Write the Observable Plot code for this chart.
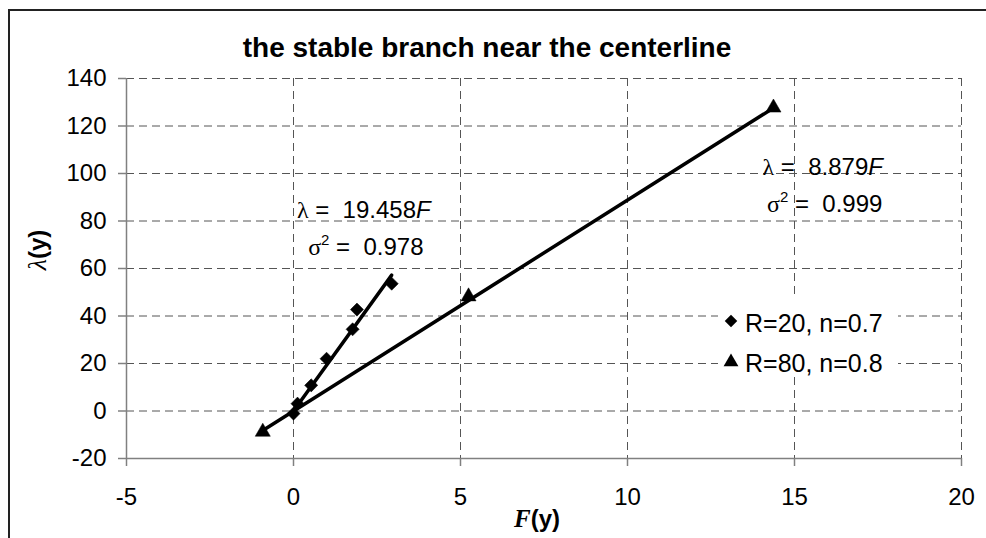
<!DOCTYPE html>
<html><head><meta charset="utf-8">
<script src="https://cdn.jsdelivr.net/npm/d3@7"></script>
<script src="https://cdn.jsdelivr.net/npm/@observablehq/plot@0.6"></script>
<style>
body{margin:0;background:#fff;}
#wrap{position:relative;width:986px;height:538px;overflow:hidden;background:#fff;}
#wrap svg{position:absolute;left:0;top:0;}
#border{position:absolute;left:8px;top:9px;width:1000px;height:600px;border-left:2px solid #222;border-top:2px solid #222;z-index:2;}
</style></head><body>
<div id="wrap"><div id="border"></div></div>
<script>
// ---- data ----
const titleText = "the stable branch near the centerline";
const seriesNames = ["R=20, n=0.7", "R=80, n=0.8"];
const F_R20 = [0, 0.12, 0.53, 0.99, 1.77, 1.90, 2.94];
const L_R20 = [-1.1, 3.1, 10.8, 22.0, 34.4, 42.7, 53.6];
const F_R80 = [-0.92, 5.24, 14.37];
const L_R80 = [-8.8, 48.2, 127.7];
const slopes = [19.458, 8.879];
const sigma2 = ["0.978", "0.999"];
const xTicks = [-5, 0, 5, 10, 15, 20];
const yTicks = [-20, 0, 20, 40, 60, 80, 100, 120, 140];

const pts20 = F_R20.map((f, i) => ({F: f, L: L_R20[i]}));
const pts80 = F_R80.map((f, i) => ({F: f, L: L_R80[i]}));
const trend = [];
[[F_R20, 0], [F_R80, 1]].forEach(([fs, k]) => {
  d3.extent(fs).forEach(f => trend.push({s: k, F: f, L: slopes[k] * f}));
});

const grid = {stroke: "#555", strokeWidth: 1, strokeDasharray: "8,5", strokeOpacity: 1};
const chart = Plot.plot({
  width: 986, height: 538,
  marginLeft: 126, marginRight: 25, marginTop: 78, marginBottom: 80,
  style: {fontFamily: "'Liberation Sans', Arial, sans-serif", fontSize: "24px", background: "transparent", color: "#000", overflow: "visible"},
  x: {domain: [-5, 20], label: null},
  y: {domain: [-20, 140], label: null},
  marks: [
    Plot.ruleX(xTicks.filter(d => d > -5), grid),
    Plot.ruleY(yTicks.filter(d => d > -20), grid),
    Plot.ruleX([-5], {stroke: "#808080", strokeWidth: 1.5}),
    Plot.ruleY([-20], {stroke: "#808080", strokeWidth: 1.5}),
    Plot.axisX({ticks: xTicks, tickSize: 8, tickPadding: 21, stroke: "#808080", strokeWidth: 1.5, label: null, tickFormat: d => String(d)}),
    Plot.axisY({ticks: yTicks, tickSize: 8, tickPadding: 12, stroke: "#808080", strokeWidth: 1.5, label: null, tickFormat: d => String(d)}),
    Plot.dot(pts20, {x: "F", y: "L", symbol: "diamond2", r: 5.9, fill: "black", stroke: "black", strokeWidth: 0.5}),
    Plot.dot(pts80, {x: "F", y: "L", symbol: "triangle", r: 5.6, fill: "black", stroke: "black", strokeWidth: 0.5}),
    Plot.line(trend, {x: "F", y: "L", z: "s", stroke: "black", strokeWidth: 3.5})
  ]
});
document.getElementById("wrap").appendChild(chart);

const sx = chart.scale("x"), sy = chart.scale("y");
const svg = d3.select(chart);
const sans = "'Liberation Sans', Arial, sans-serif";
const serif = "'Liberation Serif', 'Times New Roman', serif";

// title
svg.append("text").attr("x", 487).attr("y", 57).attr("text-anchor", "middle")
  .style("font", `bold 28px ${sans}`).attr("fill", "#000").text(titleText);

// annotations (regression equations)
const annos = [
  {k: 0, F: 2.12, L1: 81.1, L2: 65.6},
  {k: 1, F: 15.86, L1: 99.2, L2: 83.7}
];
annos.forEach(a => {
  const t1 = svg.append("text").attr("x", sx.apply(a.F)).attr("y", sy.apply(a.L1))
    .attr("text-anchor", "middle").style("font", `24px ${sans}`).style("white-space", "pre").attr("fill", "#000");
  t1.append("tspan").style("font-family", serif).text("λ");
  t1.append("tspan").text(" =  " + slopes[a.k]);
  t1.append("tspan").style("font-style", "italic").text("F");
  const t2 = svg.append("text").attr("x", sx.apply(a.F) + 2).attr("y", sy.apply(a.L2))
    .attr("text-anchor", "middle").style("font", `24px ${sans}`).style("white-space", "pre").attr("fill", "#000");
  t2.append("tspan").style("font-family", serif).text("σ");
  t2.append("tspan").attr("dy", -10).style("font-size", "15px").text("2");
  t2.append("tspan").attr("dy", 10).text(" =  " + sigma2[a.k]);
});

// legend
const lg = svg.append("g");
lg.append("rect").attr("x", 718).attr("y", 297).attr("width", 180).attr("height", 80).attr("fill", "#fff");
const symD = d3.symbol(d3.symbolDiamond2, 100)(), symT = d3.symbol(d3.symbolTriangle, 95)();
[[symD, 321, 332], [symT, 362, 372]].forEach(([p, cy, by], i) => {
  lg.append("path").attr("d", p).attr("transform", `translate(731,${cy})`).attr("fill", "#000");
  lg.append("text").attr("x", 745).attr("y", by).attr("text-anchor", "start")
    .style("font", `25px ${sans}`).attr("fill", "#000").text(seriesNames[i]);
});

// axis labels
const xl = svg.append("text").attr("x", 537).attr("y", 527).attr("text-anchor", "middle").attr("fill", "#000");
xl.append("tspan").style("font", `bold italic 25px ${serif}`).text("F");
xl.append("tspan").style("font", `bold 24px ${sans}`).text("(y)");
const yl = svg.append("text").attr("transform", "translate(46,250) rotate(-90)").attr("text-anchor", "middle").attr("fill", "#000");
yl.append("tspan").style("font", `italic 26px ${serif}`).text("λ");
yl.append("tspan").style("font", `bold 24px ${sans}`).text("(y)");
</script>
</body></html>
